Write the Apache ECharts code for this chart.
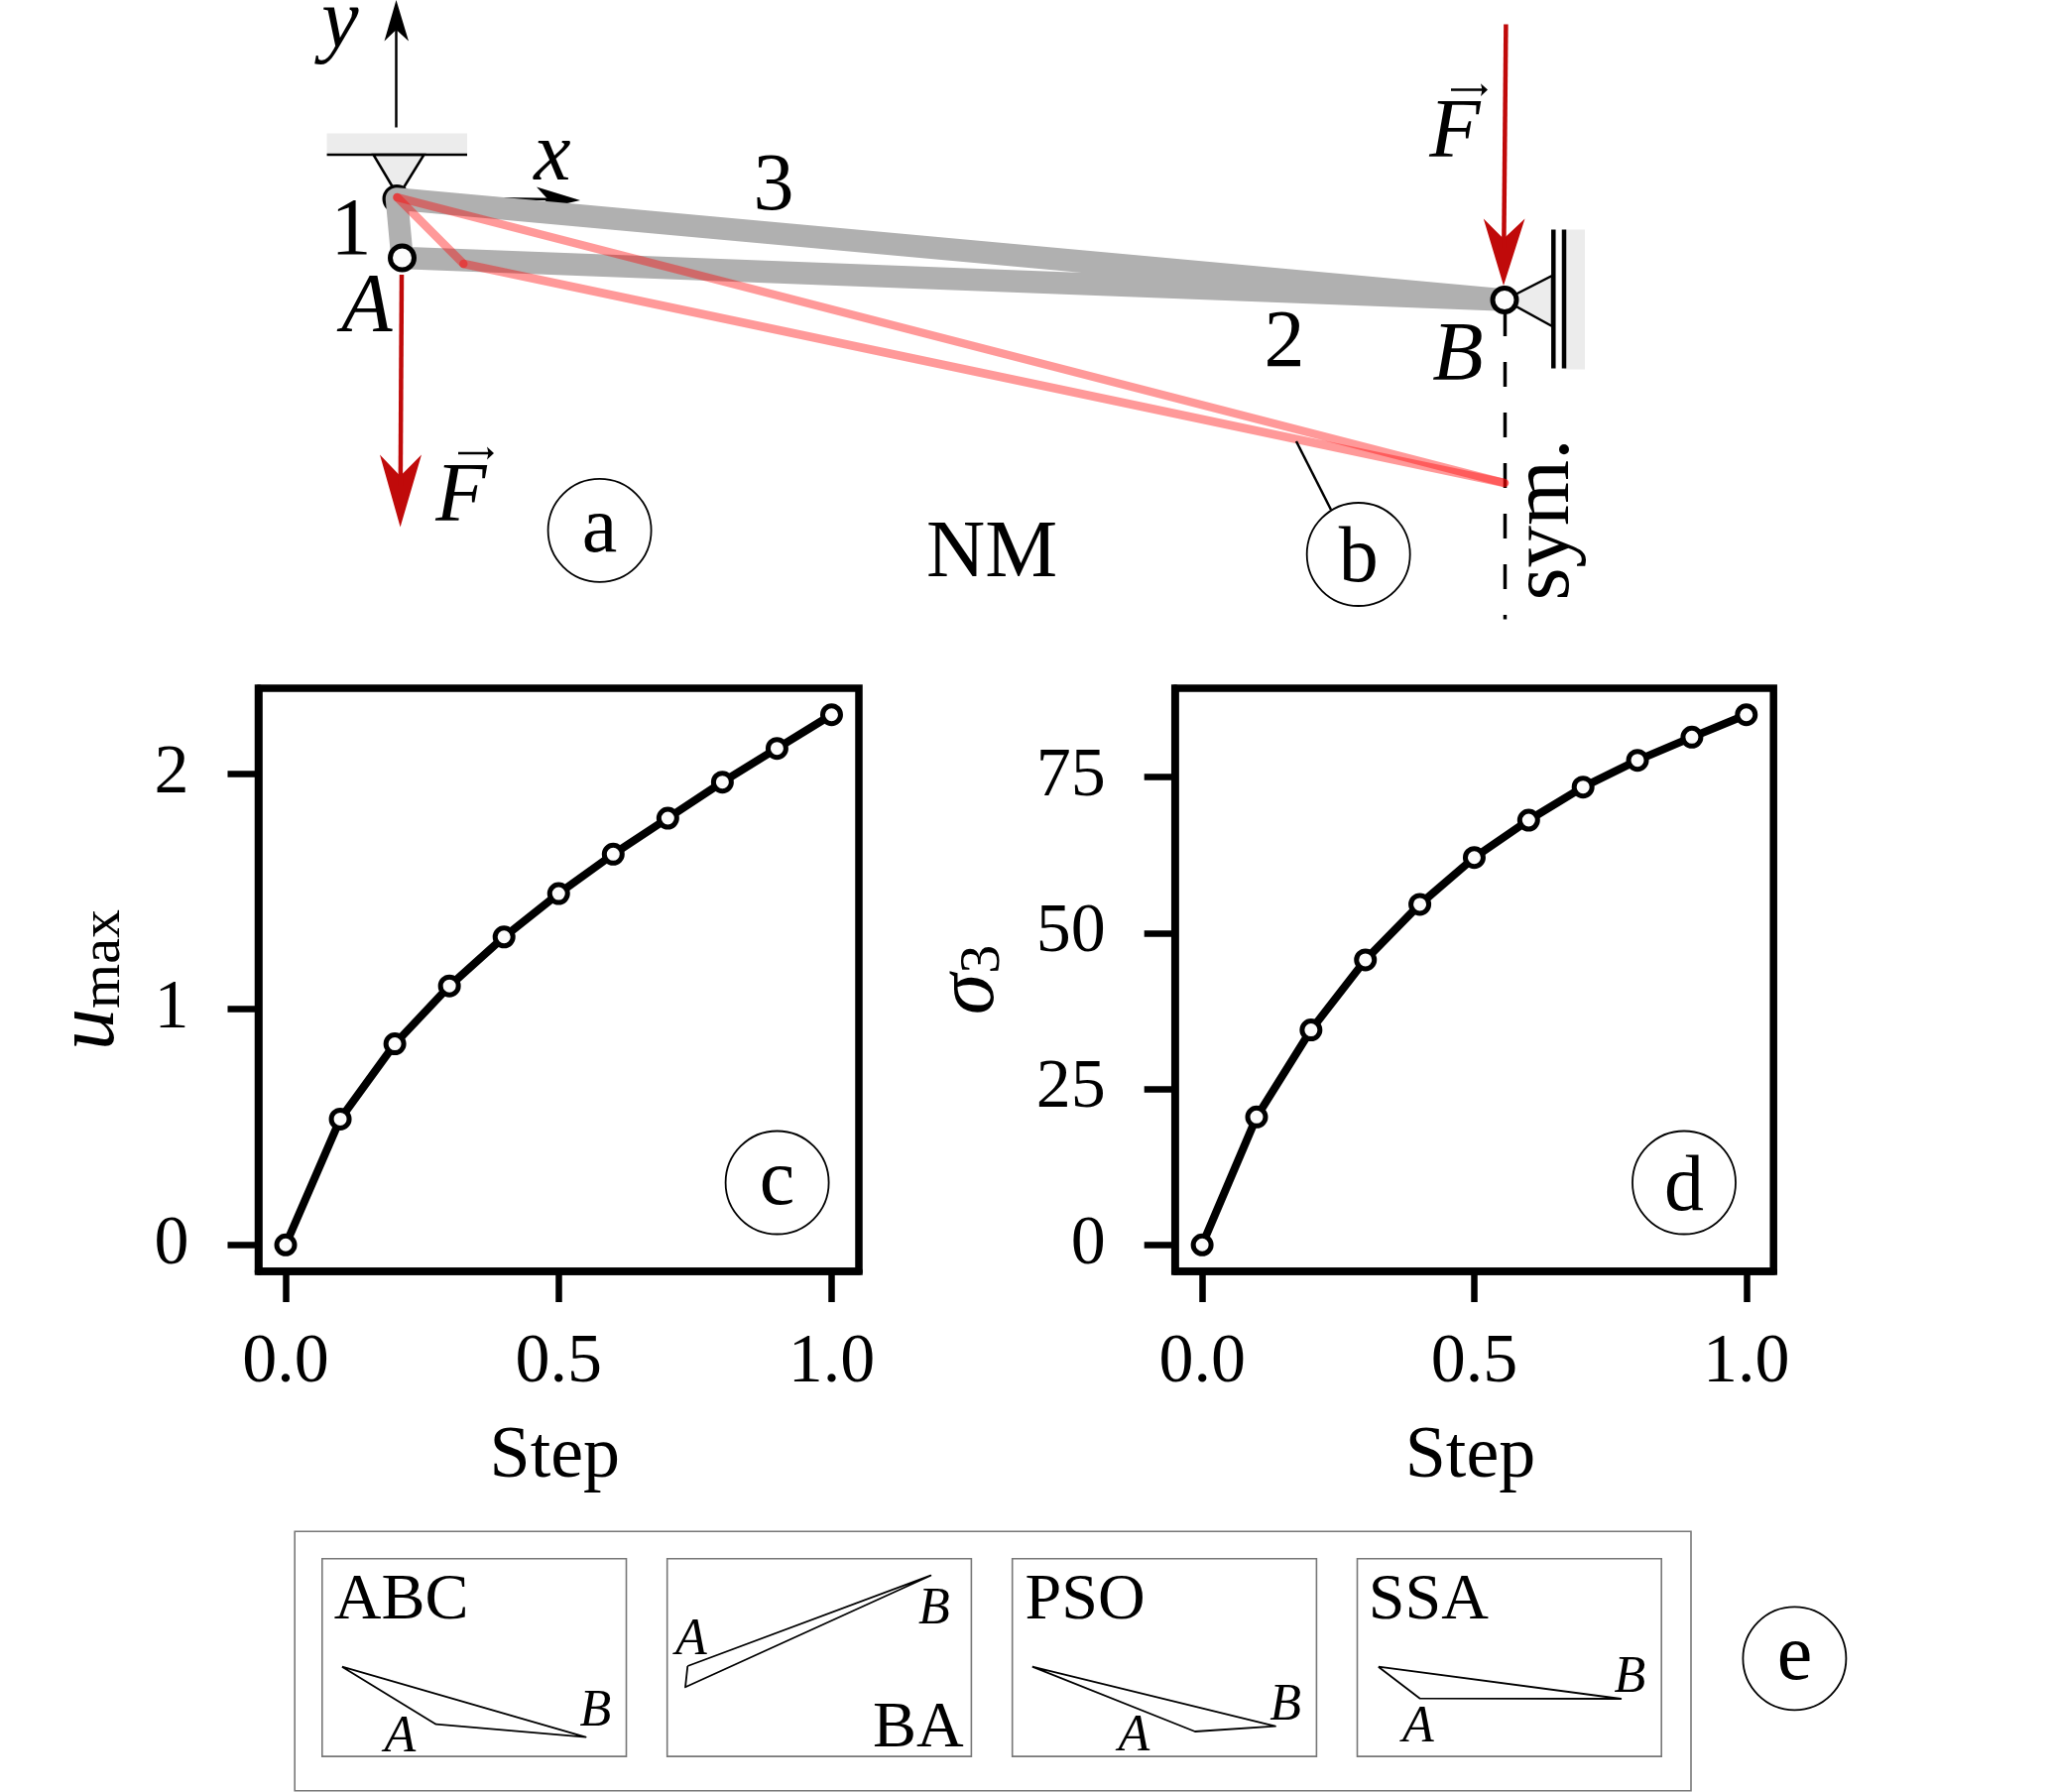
<!DOCTYPE html>
<html lang="en">
<head>
<meta charset="UTF-8">
<title>Truss optimisation</title>
<style>
    html, body { margin: 0; background: #fff; }
    #showData { width: 2071px; height: 1807px; }
</style>
</head>
<body>
<div id="showData"></div>
<script src="https://cdn.jsdelivr.net/npm/echarts@6/dist/echarts.min.js"></script>
<script>
// curves, panels c and d
var steps = [0, 0.1, 0.2, 0.3, 0.4, 0.5, 0.6, 0.7, 0.8, 0.9, 1.0];
var uMax = [0, 0.534, 0.853, 1.099, 1.307, 1.491, 1.658, 1.811, 1.964, 2.107, 2.25];
var sigma3 = [0, 20.5, 34.45, 45.7, 54.6, 62.1, 68.1, 73.4, 77.7, 81.4, 85];
var xTicks = [0, 0.5, 1];
var uTicks = [0, 1, 2];
var sigmaTicks = [0, 25, 50, 75];

// truss of panel a, in the units of the sketch axes
var node1 = [400, 200.5];
var nodeA = [405.5, 260];
var nodeB = [1517, 302.5];
var deformed1 = [400.5, 199];
var deformedA = [467.3, 266];
var deformedB = [1517, 487];

// supports and arrows
var topWall = [[329.6, 134.4], [471, 134.4], [471, 156], [329.6, 156]];
var topWallEdge = [[329.6, 156], [471, 156]];
var topHinge = [[376.5, 156], [427.5, 156], [401.5, 198]];
var sideWall = [[1577, 231.4], [1598, 231.4], [1598, 372.6], [1577, 372.6]];
var sideHinge = [[1517, 302.5], [1565, 278], [1565, 329]];
var sideEdge1 = [[1566.3, 231.4], [1566.3, 371.4]];
var sideEdge2 = [[1577, 231.4], [1577, 371.4]];
var symLine = [[1517.5, 314], [1517.5, 624.5]];
var yAxisLine = [[399.5, 128.5], [399.5, 30]];
var yAxisHead = [[399.5, 0], [412, 41.5], [399.5, 30], [387.5, 41.5]];
var xAxisLine = [[400, 199], [565, 201]];
var xAxisHead = [[585, 202], [541, 188.5], [552, 200.5], [541, 212]];
var forceLeftLine = [[405, 277], [403.8, 490]];
var forceLeftHead = [[403.6, 531.6], [383, 458.5], [403.6, 480], [425, 458.5]];
var forceRightLine = [[1518.4, 24.5], [1516.3, 250]];
var forceRightHead = [[1516, 288], [1495.8, 220.4], [1516, 240.8], [1537.5, 220.4]];
var vecLeftLine = [[462, 457], [494, 457]];
var vecLeftHead = [[498, 457], [491, 450.6], [492.5, 457], [491, 463.4]];
var vecRightLine = [[1463, 90.6], [1496, 90.6]];
var vecRightHead = [[1500, 90.6], [1493, 84.2], [1494.5, 90.6], [1493, 97]];
var bLeader = [[1307, 445], [1342, 514]];

// sketch labels: x, y, text
var mathLabels = [[343, 25, 'y'], [557, 159, 'x'], [465, 503, 'F'], [1467, 136, 'F'],
    [370, 312, 'A'], [1470, 361, 'B']];
var romanLabels = [[354, 234, '1'], [780, 189, '3'], [1295, 347, '2'], [1000, 559, 'NM']];
var badges = [[604.6, 534.8, 'a'], [1369.7, 559, 'b'], [783.6, 1192.5, 'c'], [1698, 1192.5, 'd'],
    [1809.4, 1672.3, 'e']];
var badgeShift = {a: 0, b: 6, c: 0, d: 6, e: 0};

// panel e, one shape per method, in inset units
var insetLefts = [324.8, 672.7, 1020.7, 1368.5];
var insetNames = [[79.8, 43, 'ABC'], [253.1, 172, 'BA'], [73.4, 43, 'PSO'], [71.8, 43, 'SSA']];
var insetShapes = [
    [[20.1, 109], [114.8, 167], [265.8, 180], [20.1, 109]],
    [[20.6, 108.3], [265.7, 17], [18.3, 129.6], [20.6, 108.3]],
    [[20.1, 109], [184.2, 174.3], [265.2, 169], [20.1, 109]],
    [[21.3, 109], [63.2, 141], [265.8, 141.3], [21.3, 109]]
];
var insetA = [[78.6, 180.5, 'A'], [24.1, 82.5, 'A'], [122.8, 179.8, 'A'], [61.5, 170.8, 'A']];
var insetB = [[275.5, 155, 'B'], [269.2, 52, 'B'], [275.5, 149, 'B'], [275, 121, 'B']];

var serif = 'Liberation Serif';
var series = [];

function hiddenAxis(index, max, inverse) {
    return {type: 'value', gridIndex: index, min: 0, max: max, inverse: !!inverse, show: false};
}

function addLine(axis, pts, color, width, z, cap, dash) {
    series.push({
        type: 'line', xAxisIndex: axis, yAxisIndex: axis, data: pts, z: z,
        showSymbol: false, symbol: 'none', silent: true, clip: false,
        lineStyle: {color: color, width: width, cap: cap || 'butt', join: 'round', type: dash || 'solid'}
    });
}

function addPolygon(axis, pts, fill, stroke, width, z) {
    series.push({
        type: 'custom', xAxisIndex: axis, yAxisIndex: axis, coordinateSystem: 'cartesian2d',
        data: pts, z: z, silent: true, clip: false,
        renderItem: function (params, api) {
            if (params.dataIndex !== 0) return null;
            return {
                type: 'polygon',
                shape: {points: pts.map(function (p) { return api.coord(p); })},
                style: {fill: fill, stroke: stroke, lineWidth: width}
            };
        }
    });
}

function addText(axis, items, size, italic, z, rotate) {
    series.push({
        type: 'scatter', xAxisIndex: axis, yAxisIndex: axis, data: items, z: z,
        symbolSize: 1, itemStyle: {color: 'rgba(0,0,0,0)', opacity: 1}, silent: true, clip: false,
        label: {
            show: true, position: 'inside', color: '#000', fontFamily: serif, fontSize: size,
            fontStyle: italic ? 'italic' : 'normal', rotate: rotate || 0,
            align: 'center', verticalAlign: 'middle',
            formatter: function (p) { return p.value[2]; }
        }
    });
}

function addNode(pt, z) {
    series.push({
        type: 'scatter', xAxisIndex: 0, yAxisIndex: 0, data: [pt], z: z, silent: true,
        symbolSize: 24, itemStyle: {color: '#fcfcfc', borderColor: '#000', borderWidth: 5, opacity: 1}
    });
}

// sketch, back to front
addPolygon(0, topWall, '#ececec', null, 0, 1);
addLine(0, topWallEdge, '#000', 2.5, 2);
addPolygon(0, topHinge, '#ececec', '#000', 2.5, 2);
addPolygon(0, sideWall, '#ececec', null, 0, 1);
addPolygon(0, sideHinge, '#ececec', '#000', 2.5, 2);
addLine(0, sideEdge1, '#000', 4.5, 2);
addLine(0, sideEdge2, '#000', 4.5, 2);
addLine(0, symLine, '#000', 3.5, 2, 'butt', [25, 26]);
addNode(node1, 2);
addLine(0, xAxisLine, '#000', 2.5, 2);
addPolygon(0, xAxisHead, '#000', null, 0, 2);
addLine(0, [node1, nodeA, nodeB, node1], '#b0b0b0', 22.5, 3, 'round');
addNode(nodeA, 4);
addNode(nodeB, 4);
addLine(0, [deformed1, deformedA], 'rgba(255,0,0,0.4)', 8.5, 5, 'round');
addLine(0, [deformedA, deformedB], 'rgba(255,0,0,0.4)', 8.5, 5, 'round');
addLine(0, [deformedB, deformed1], 'rgba(255,0,0,0.4)', 8.5, 5, 'round');
addLine(0, yAxisLine, '#000', 2.5, 6);
addPolygon(0, yAxisHead, '#000', null, 0, 6);
addLine(0, forceLeftLine, '#c00a0a', 4.5, 6);
addPolygon(0, forceLeftHead, '#c00a0a', null, 0, 6);
addLine(0, forceRightLine, '#c00a0a', 4.5, 6);
addPolygon(0, forceRightHead, '#c00a0a', null, 0, 6);
addLine(0, vecLeftLine, '#000', 2.5, 6);
addPolygon(0, vecLeftHead, '#000', null, 0, 6);
addLine(0, vecRightLine, '#000', 2.5, 6);
addPolygon(0, vecRightHead, '#000', null, 0, 6);
addLine(0, bLeader, '#000', 2.5, 6);
addText(0, mathLabels, 84, true, 7);
addText(0, romanLabels, 82, false, 7);
addText(0, [[1559, 524, 'sym.']], 85, false, 7, 90);

// badges
series.push({
    type: 'scatter', xAxisIndex: 0, yAxisIndex: 0, data: badges, z: 8, silent: true,
    symbolSize: 104, itemStyle: {color: '#fff', borderColor: '#000', borderWidth: 1.8, opacity: 1}
});
addText(0, badges.map(function (b) { return [b[0], b[1] + badgeShift[b[2]], b[2]]; }), 80, false, 9);

// curves
function addCurve(axis, values) {
    series.push({
        type: 'line', xAxisIndex: axis, yAxisIndex: axis, z: 5, clip: false, silent: true,
        data: steps.map(function (s, i) { return [s, values[i]]; }),
        symbol: 'circle', symbolSize: 18, showSymbol: true, showAllSymbol: true,
        lineStyle: {color: '#000', width: 8, join: 'round'},
        itemStyle: {color: '#fcfcfc', borderColor: '#000', borderWidth: 5, opacity: 1}
    });
}
addCurve(1, uMax);
addCurve(2, sigma3);

// insets
insetShapes.forEach(function (shape, i) {
    var axis = 4 + i;
    addLine(axis, shape, '#000', 1.8, 3);
    addText(axis, [insetNames[i]], 66, false, 4);
    addText(axis, [insetA[i]], 52, true, 4);
    addText(axis, [insetB[i]], 52, true, 4);
});

function plotX(index) {
    return {
        type: 'value', gridIndex: index, min: -0.05, max: 1.05,
        name: 'Step', nameLocation: 'middle', nameGap: 151,
        nameTextStyle: {fontFamily: serif, fontSize: 74, color: '#000', padding: [0, 8, 0, 0]},
        splitLine: {show: false},
        axisLine: {onZero: false, lineStyle: {color: '#000', width: 7.5}},
        axisTick: {length: 31, customValues: xTicks, lineStyle: {color: '#000', width: 6.5}},
        axisLabel: {
            margin: 58, customValues: xTicks, color: '#000', fontFamily: serif, fontSize: 70,
            formatter: function (v) { return v.toFixed(1); }
        }
    };
}

function plotY(index, min, max, ticks, name, gap, rich) {
    return {
        type: 'value', gridIndex: index, min: min, max: max,
        name: name, nameLocation: 'middle', nameGap: gap, nameRotate: 90,
        nameTextStyle: {fontFamily: serif, color: '#000', rich: rich},
        splitLine: {show: false},
        axisLine: {onZero: false, lineStyle: {color: '#000', width: 7.5}},
        axisTick: {length: 31, customValues: ticks, lineStyle: {color: '#000', width: 6.5}},
        axisLabel: {margin: 70, customValues: ticks, color: '#000', fontFamily: serif, fontSize: 70, padding: [8, 0, 0, 0]}
    };
}

var mathRich = {
    m: {fontFamily: serif, fontStyle: 'italic', fontSize: 84, color: '#000'},
    s: {fontFamily: serif, fontSize: 58, color: '#000', verticalAlign: 'bottom'}
};

var frame = {show: true, borderColor: '#000', borderWidth: 7.5, backgroundColor: 'transparent'};
function insetGrid(left) {
    return {show: true, left: left, top: 1571.7, width: 306.7, height: 199.4,
        borderColor: '#777', borderWidth: 1.6, backgroundColor: 'transparent'};
}

var grids = [
    {left: 0, top: 0, width: 2071, height: 1807},
    Object.assign({left: 260.5, top: 694, width: 605.5, height: 588}, frame),
    Object.assign({left: 1184.7, top: 694, width: 603.5, height: 588}, frame),
    {show: true, left: 297.2, top: 1544.3, width: 1407.8, height: 261.5,
        borderColor: '#777', borderWidth: 1.6, backgroundColor: 'transparent'}
].concat(insetLefts.map(insetGrid));

var xAxes = [hiddenAxis(0, 2071), plotX(1), plotX(2), hiddenAxis(3, 100)];
var yAxes = [
    hiddenAxis(0, 1807, true),
    plotY(1, -0.1125, 2.3625, uTicks, '{m|u}{s|max}', 127, mathRich),
    plotY(2, -4.25, 89.25, sigmaTicks, '{m|σ}{s|3}', 164, mathRich),
    hiddenAxis(3, 100)
];
insetLefts.forEach(function (l, i) {
    xAxes.push(hiddenAxis(4 + i, 306.7));
    yAxes.push(hiddenAxis(4 + i, 199.4, true));
});

var mychart = echarts.init(document.getElementById('showData'));
mychart.setOption({
    animation: false,
    backgroundColor: '#fff',
    textStyle: {fontFamily: serif},
    grid: grids,
    xAxis: xAxes,
    yAxis: yAxes,
    series: series
});
</script>
</body>
</html>
